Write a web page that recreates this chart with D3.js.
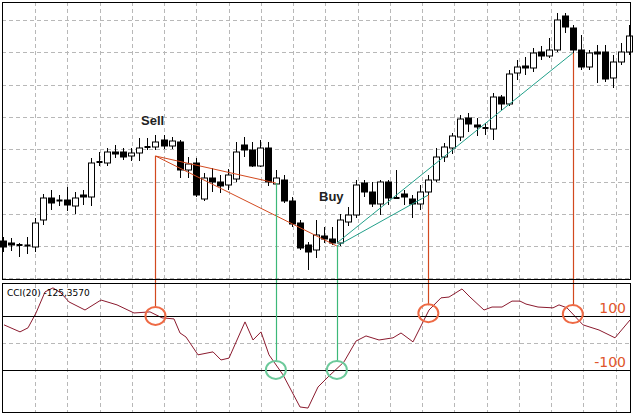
<!DOCTYPE html>
<html><head><meta charset="utf-8">
<script src="https://cdn.jsdelivr.net/npm/d3@7"></script>
<style>body{margin:0;background:#fff}svg{display:block}</style>
</head><body>
<svg id="c" width="633" height="417"></svg>
<script>
const open  = [59,57,55,55,53,80,102,100,100,94,105,103,138,137,148,148,144,147,153,153,160,154,158,130,137,101,122,118,115,121,155,150,134,152,116,120,99,77,55,50,64,61,57,78,85,117,108,96,118,102,106,101,96,108,120,143,152,163,182,175,172,171,203,196,227,234,232,248,244,250,284,272,250,233,248,248,222,238,248];
const close = [53,55,55,54,77,102,97,99,95,102,103,137,138,148,146,143,147,152,153,158,154,159,130,136,105,122,118,114,125,148,150,134,152,118,122,99,76,52,48,65,61,57,80,85,115,108,96,118,102,102,103,96,108,120,143,153,164,181,176,173,172,203,196,226,233,232,247,244,250,280,273,250,233,247,246,221,238,248,264];
const high  = [63,62,57,63,82,106,110,105,113,108,110,142,148,152,155,152,152,162,162,165,165,163,160,143,142,127,132,125,131,158,163,158,160,158,130,125,103,80,58,80,73,73,86,93,120,120,118,120,120,130,110,105,115,125,152,157,167,185,187,182,177,207,205,230,240,243,252,254,262,287,287,275,265,250,255,255,245,257,275];
const low   = [48,49,43,46,48,75,90,94,89,86,95,94,134,134,142,140,139,139,150,150,151,151,122,122,103,99,108,107,110,118,143,133,133,114,108,97,73,50,30,42,57,55,54,74,82,103,93,85,95,102,95,82,90,105,118,138,146,159,168,164,165,160,190,194,220,225,228,240,242,248,267,245,230,230,217,218,212,235,245];
const cciX  = [4,20,28,36,45,53,61,69,85,101,117,134,150,162,174,180,186,198,213,221,229,245,253,261,269,283,300,308,318,328,344,356,366,379,393,401,413,429,441,449,462,470,484,492,502,512,520,526,538,553,559,567,583,599,615,630];
const cci   = [67,41,56,111,189,204,185,152,122,159,141,111,115,93,89,37,22,-44,-33,-63,-56,78,11,41,-44,-118,-237,-241,-163,-126,-70,7,26,11,19,37,4,122,167,170,200,170,122,133,133,155,155,144,133,130,141,130,67,48,19,85];
const levels = [100,-100];
const levelLabels = ["100","-100"];
// [fromCandle, fromPrice, toCandle, toPrice]
const sellLines = [[19,144,34,117],[19,144,41.6,54]];
const buyLines  = [[41.6,54,53,105],[41.6,57,71,247]];
// [candle, price, cciLevel]
const sellMarks = [[19,144,100],[53,105,110],[71,247,107]];
const buyMarks  = [[34,117,-100],[41.6,54,-100]];
const signalText = [["Sell",141,125],["Buy",319,201]];

const svg = d3.select("#c");
const x = d3.scaleLinear().domain([0,78]).range([3,629]);
const y = d3.scaleLinear().domain([19,298]).range([281,2]);
const yc = d3.scaleLinear().domain([-255.6,222]).range([412,283]);
const px = v => Math.round(v)+0.5;
const dash = "4,3", gc = "#b8b8b8";

for (let gx=35; gx<631; gx+=32.25) svg.append("line").attr("x1",px(gx)).attr("x2",px(gx)).attr("y1",2).attr("y2",280).attr("stroke",gc).attr("stroke-dasharray",dash);
for (let gy=20; gy<280; gy+=32.3) svg.append("line").attr("x1",2).attr("x2",631).attr("y1",px(gy)).attr("y2",px(gy)).attr("stroke",gc).attr("stroke-dasharray",dash);
for (let gx=35; gx<631; gx+=32.25) svg.append("line").attr("x1",px(gx)).attr("x2",px(gx)).attr("y1",284).attr("y2",413).attr("stroke",gc).attr("stroke-dasharray",dash);
svg.append("line").attr("x1",2).attr("x2",631).attr("y1",px(yc(0))).attr("y2",px(yc(0))).attr("stroke",gc).attr("stroke-dasharray",dash);

const g = svg.append("g");
open.forEach((o,i)=>{
  const cx = px(x(i)), c = close[i];
  g.append("line").attr("x1",cx).attr("x2",cx).attr("y1",y(high[i])).attr("y2",y(low[i])).attr("stroke","#000");
  const top = y(Math.max(o,c)), bot = y(Math.min(o,c));
  if (bot-top < 1.5) {
    g.append("line").attr("x1",cx-3).attr("x2",cx+3).attr("y1",(top+bot)/2).attr("y2",(top+bot)/2).attr("stroke","#000").attr("stroke-width",2);
  } else {
    g.append("rect").attr("x",cx-3).attr("y",top).attr("width",6).attr("height",bot-top)
      .attr("fill", c>o?"#fff":"#000").attr("stroke","#000");
  }
});

svg.append("path").datum(cci).attr("fill","none").attr("stroke","#8b1a2e").attr("stroke-width",1)
  .attr("d", d3.line().x((d,i)=>cciX[i]).y(d=>yc(d)));
levels.forEach((lv,i)=>{
  svg.append("line").attr("x1",2).attr("x2",631).attr("y1",px(yc(lv))).attr("y2",px(yc(lv))).attr("stroke","#000");
  svg.append("text").attr("x",626).attr("y",yc(lv)-3).attr("text-anchor","end").attr("fill","#e0552a")
    .attr("font-family","DejaVu Sans").attr("font-size",14).text(levelLabels[i]);
});

const red="#d2491f", green="#3cb878";
sellLines.forEach(s=>svg.append("line").attr("x1",x(s[0])).attr("y1",y(s[1])).attr("x2",x(s[2])).attr("y2",y(s[3])).attr("stroke",red));
buyLines.forEach(s=>svg.append("line").attr("x1",x(s[0])).attr("y1",y(s[1])).attr("x2",x(s[2])).attr("y2",y(s[3])).attr("stroke","#22a08a"));
sellMarks.forEach(m=>{
  svg.append("line").attr("x1",px(x(m[0]))).attr("x2",px(x(m[0]))).attr("y1",y(m[1])).attr("y2",yc(m[2])-8).attr("stroke",red).attr("stroke-width",1.2);
  svg.append("ellipse").attr("cx",x(m[0])).attr("cy",yc(m[2])).attr("rx",10).attr("ry",9).attr("fill","none").attr("stroke","#ee6a45").attr("stroke-width",2);
});
buyMarks.forEach(m=>{
  svg.append("line").attr("x1",px(x(m[0]))).attr("x2",px(x(m[0]))).attr("y1",y(m[1])).attr("y2",yc(m[2])-8).attr("stroke",green).attr("stroke-width",1.2);
  svg.append("ellipse").attr("cx",x(m[0])).attr("cy",yc(m[2])).attr("rx",10).attr("ry",9).attr("fill","none").attr("stroke","#6cc99a").attr("stroke-width",2);
});
signalText.forEach(t=>svg.append("text").attr("x",t[1]).attr("y",t[2]).attr("font-family","Liberation Sans").attr("font-weight","bold").attr("font-size",13).attr("fill","#222").text(t[0]));
svg.append("text").attr("x",7).attr("y",296).attr("font-family","DejaVu Sans").attr("font-size",9).attr("fill","#000").text("CCI(20) -125,3570");

svg.append("rect").attr("x",2.5).attr("y",2.5).attr("width",628).attr("height",277).attr("fill","none").attr("stroke","#000");
svg.append("rect").attr("x",2.5).attr("y",283.5).attr("width",628).attr("height",129).attr("fill","none").attr("stroke","#000");
</script>
</body></html>
